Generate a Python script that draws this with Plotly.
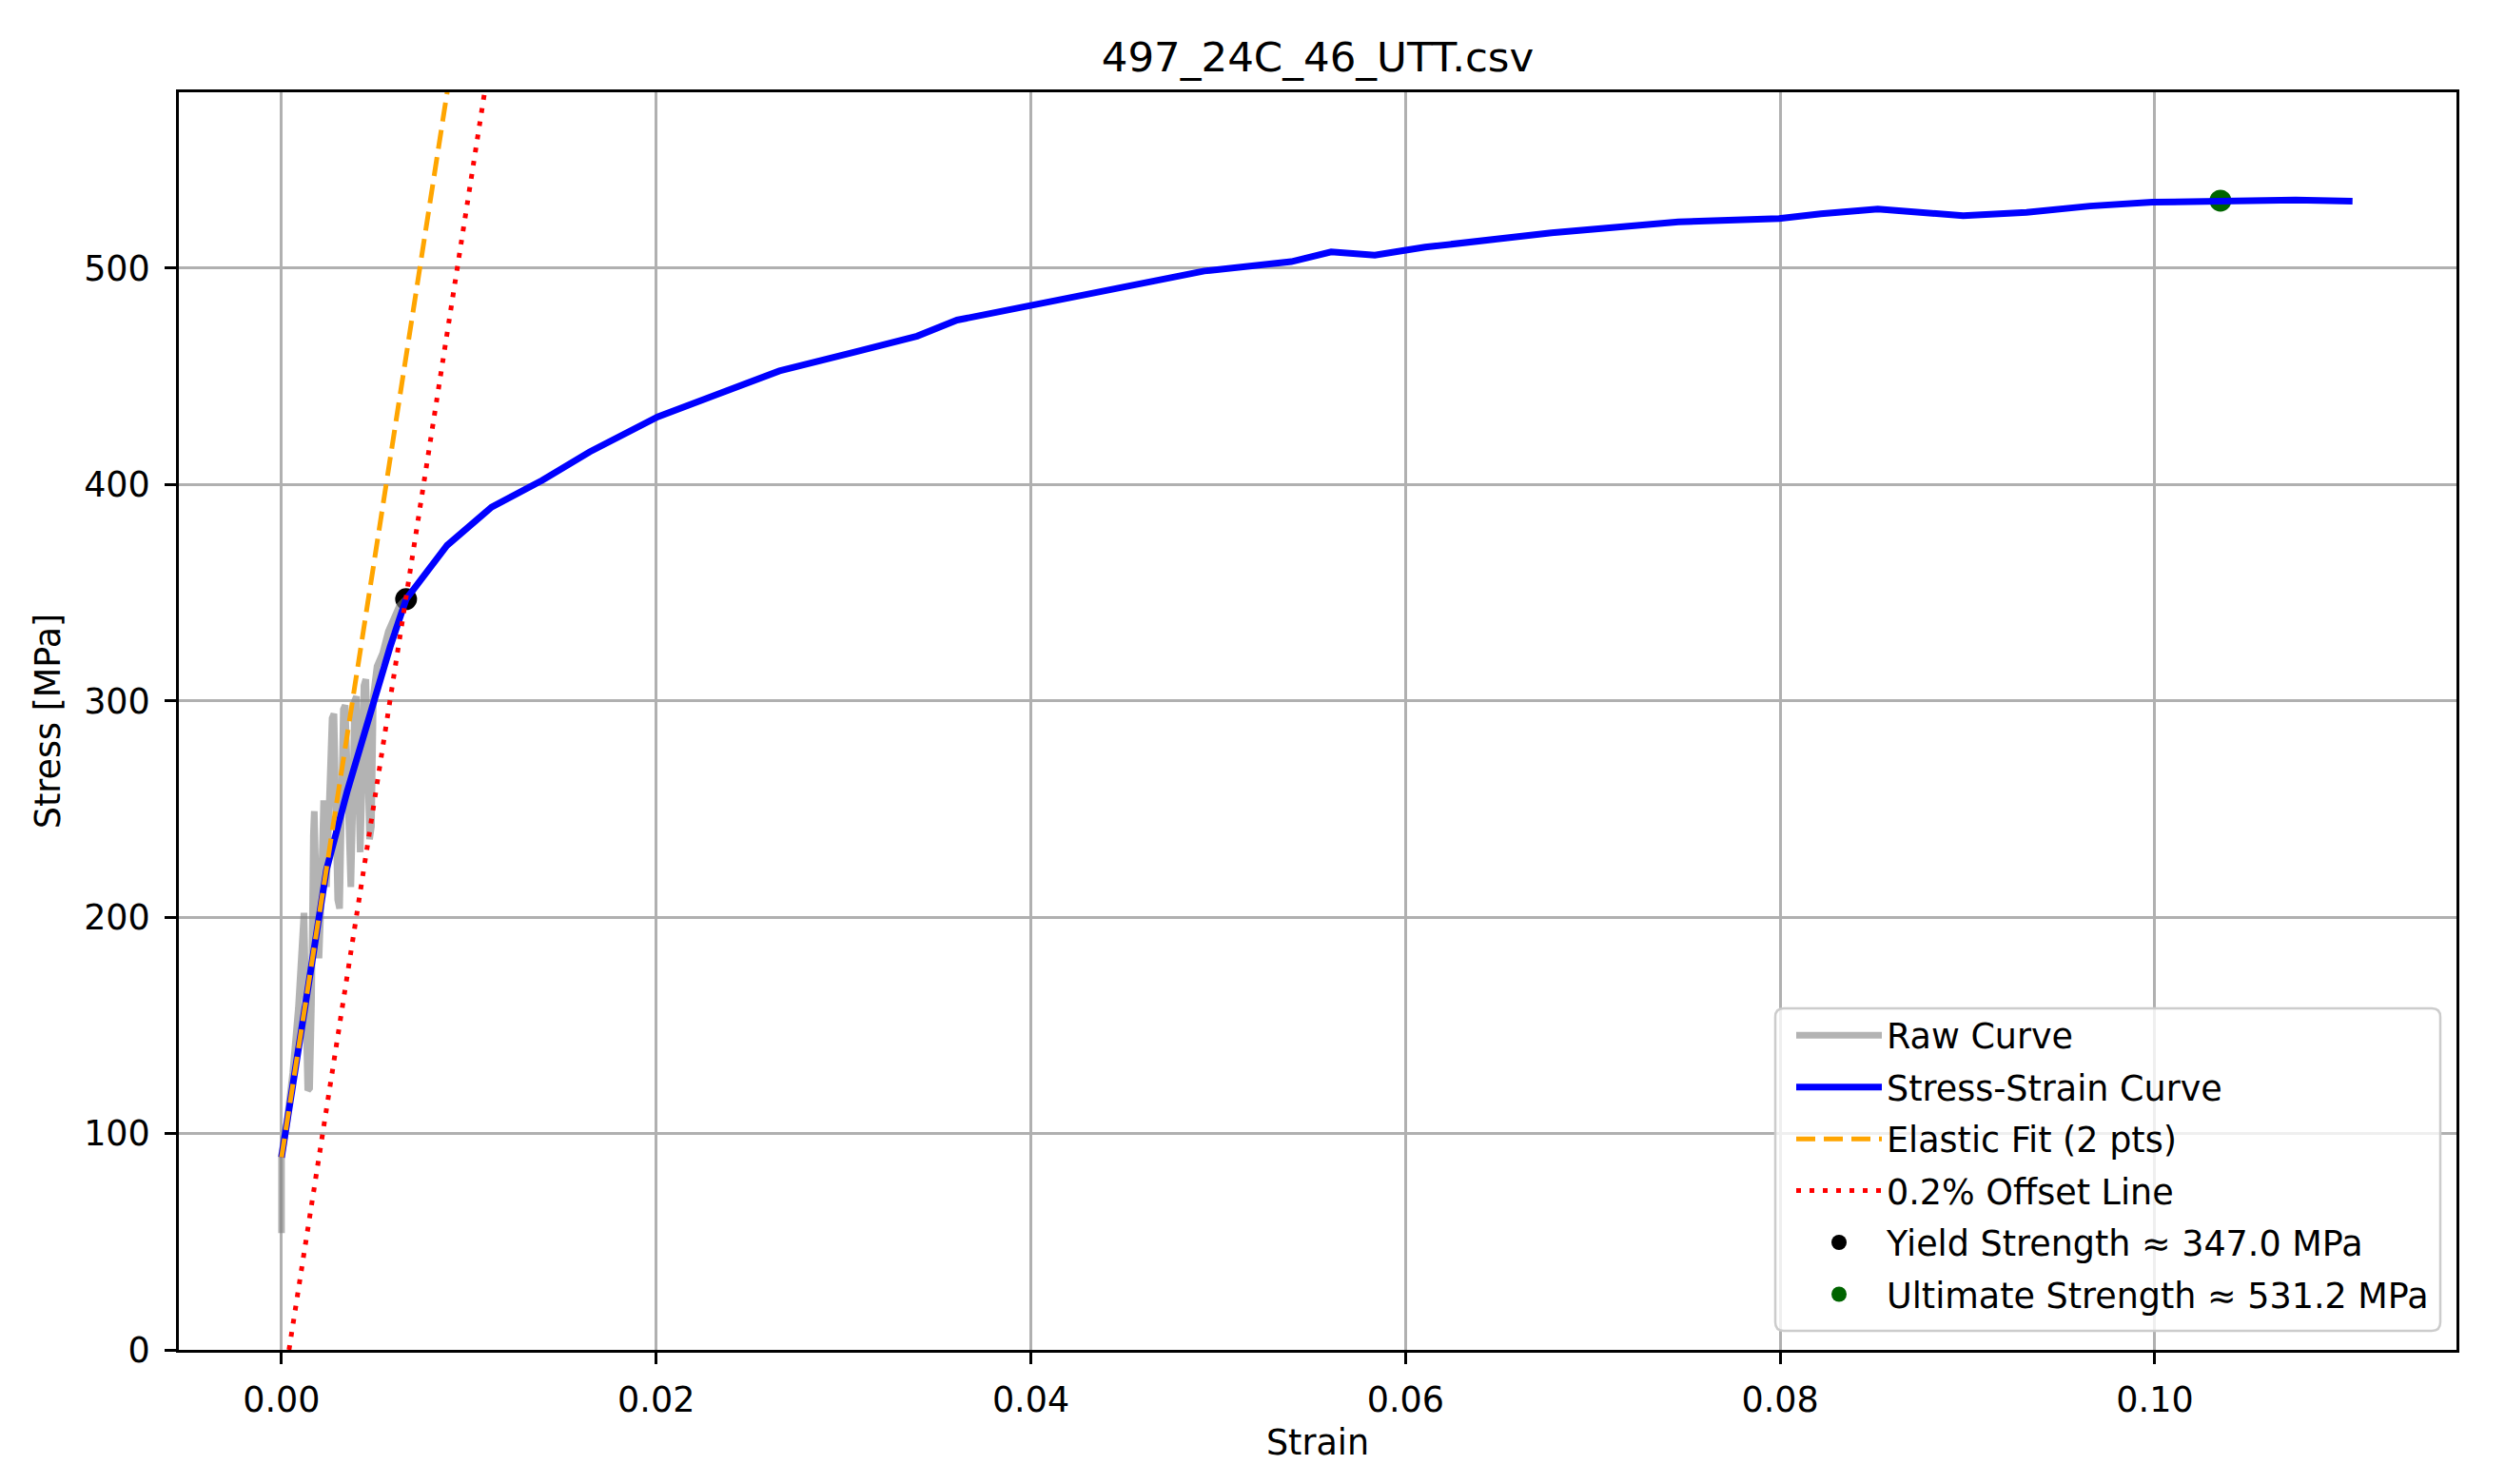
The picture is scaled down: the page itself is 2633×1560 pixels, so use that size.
import plotly.graph_objects as go

# ---------------- data ----------------
raw_strain = [0.0000, 0.0000, 0.0003, 0.0006, 0.0009, 0.0011, 0.0012, 0.00125, 0.0013, 0.0014,
              0.0015, 0.0016, 0.0017, 0.00175, 0.0018, 0.0019, 0.0020, 0.0021, 0.0022, 0.00225,
              0.0023, 0.0024, 0.0025, 0.0026, 0.0027, 0.0028, 0.0029, 0.0030, 0.0031, 0.0032,
              0.0033, 0.0034, 0.0035, 0.0036, 0.0037, 0.0038, 0.0039, 0.0040, 0.0041, 0.0042,
              0.0043, 0.0044, 0.0045, 0.0046, 0.0047, 0.0048, 0.0049, 0.0051, 0.0054, 0.0057,
              0.0060, 0.0063, 0.00665]
raw_stress = [54, 90, 106, 128, 158, 185, 202, 180, 140, 120,
              121, 160, 238, 249, 230, 200, 181, 205, 250, 254,
              232, 214, 240, 270, 292, 294, 250, 208, 204, 240,
              296, 298, 262, 226, 214, 250, 300, 302, 272, 230,
              262, 307, 310, 272, 236, 242, 302, 316, 322, 332,
              338, 344, 347]

curve_strain = [0.0000, 0.0010, 0.0020, 0.0024, 0.0035, 0.0048, 0.0058, 0.00665,
                0.00884, 0.01121, 0.01391, 0.01645, 0.02008, 0.02320, 0.02658, 0.03064,
                0.03393, 0.03606, 0.04000, 0.04306, 0.04498, 0.04926, 0.05390, 0.05603,
                0.05836, 0.05993, 0.06105, 0.06779, 0.07456, 0.07994, 0.08217, 0.08521,
                0.08740, 0.08977, 0.09315, 0.09653, 0.09986, 0.10346, 0.10751, 0.11055]
curve_stress = [89.0, 144.5, 200.0, 222.0, 258.0, 296.0, 325.0, 347.0,
                371.9, 389.5, 401.9, 415.1, 431.3, 441.5, 452.5, 461.3,
                468.6, 476.0, 482.5, 487.7, 491.3, 498.7, 503.0, 507.5,
                506.0, 508.2, 509.7, 516.3, 521.4, 522.9, 525.1, 527.3,
                526.1, 524.3, 525.8, 528.7, 530.5, 531.2, 531.5, 531.0]

elastic_strain = [0.0, 0.0095]
elastic_stress = [89.0, 618.0]

offset_strain = [0.0004, 0.0115]
offset_stress = [0.0, 618.0]

yield_strain = [0.00665]
yield_stress = [347.0]
ultimate_strain = [0.1035]
ultimate_stress = [531.2]

x_ticks = [0.00, 0.02, 0.04, 0.06, 0.08, 0.10]
x_tick_labels = ["0.00", "0.02", "0.04", "0.06", "0.08", "0.10"]
y_ticks = [0, 100, 200, 300, 400, 500]
y_tick_labels = ["0", "100", "200", "300", "400", "500"]

title_text = "497_24C_46_UTT.csv"

# ---------------- figure ----------------
FONT = "DejaVu Sans"
# the page body adds an 8px offset, so the figure is 8px smaller
W, H = 2625, 1552
L, R, T, B = 180, 51, 89, 141
FS = 36.5

fig = go.Figure()

# markers first so the lines are drawn over them (as in the reference)
fig.add_trace(go.Scatter(x=yield_strain, y=yield_stress, mode="markers",
                         marker=dict(color="black", size=23),
                         name="Yield Strength ≈ 347.0 MPa", legendgroup="g5", legendrank=5))
fig.add_trace(go.Scatter(x=ultimate_strain, y=ultimate_stress, mode="markers",
                         marker=dict(color="#006400", size=23),
                         name="Ultimate Strength ≈ 531.2 MPa", legendgroup="g6", legendrank=6))
fig.add_trace(go.Scatter(x=raw_strain, y=raw_stress, mode="lines",
                         line=dict(color="rgba(128,128,128,0.6)", width=7),
                         name="Raw Curve", legendgroup="g1", legendrank=1))
fig.add_trace(go.Scatter(x=curve_strain, y=curve_stress, mode="lines",
                         line=dict(color="blue", width=7),
                         name="Stress-Strain Curve", legendgroup="g2", legendrank=2))
fig.add_trace(go.Scatter(x=elastic_strain, y=elastic_stress, mode="lines",
                         line=dict(color="orange", width=5, dash="20px,9px"),
                         name="Elastic Fit (2 pts)", legendgroup="g3", legendrank=3))
fig.add_trace(go.Scatter(x=offset_strain, y=offset_stress, mode="lines",
                         line=dict(color="red", width=5, dash="5px,9px"),
                         name="0.2% Offset Line", legendgroup="g4", legendrank=4))

plot_w = W - L - R
plot_h = H - T - B


def px_to_paper(px, py):
    return (px - L) / plot_w, (H - B - py) / plot_h


# legend frame (rounded, semi-transparent) in figure pixel coords
bx0, by0, bx1, by1, rad = 1858, 1052, 2557, 1391, 9
x0p, y0p = px_to_paper(bx0, by0)
x1p, y1p = px_to_paper(bx1, by1)
rx = rad / plot_w
ry = rad / plot_h
path = (f"M {x0p + rx},{y0p} L {x1p - rx},{y0p} Q {x1p},{y0p} {x1p},{y0p - ry} "
        f"L {x1p},{y1p + ry} Q {x1p},{y1p} {x1p - rx},{y1p} "
        f"L {x0p + rx},{y1p} Q {x0p},{y1p} {x0p},{y1p + ry} "
        f"L {x0p},{y0p - ry} Q {x0p},{y0p} {x0p + rx},{y0p} Z")

fig.update_layout(
    width=W, height=H,
    margin=dict(l=L, r=R, t=T, b=B, autoexpand=False),
    paper_bgcolor="white", plot_bgcolor="white",
    font=dict(family=FONT, size=FS, color="black"),
    title=dict(text=title_text, x=0.5, xref="paper", xanchor="center",
               y=1 - 52 / H, yref="container", yanchor="middle",
               font=dict(family=FONT, size=43.5, color="black")),
    legend=dict(x=(2550 - L) / plot_w, y=(H - B - 1383) / plot_h,
                xanchor="right", yanchor="bottom",
                bgcolor="rgba(0,0,0,0)", borderwidth=0,
                font=dict(family=FONT, size=FS, color="black"),
                traceorder="grouped", tracegroupgap=4, itemwidth=90),
    showlegend=True,
    shapes=[dict(type="path", path=path, xref="paper", yref="paper",
                 fillcolor="rgba(255,255,255,0.8)",
                 line=dict(color="#cccccc", width=2.5), layer="above")],
)

axis_common = dict(showgrid=True, gridcolor="#b0b0b0", gridwidth=2.5,
                   showline=True, linecolor="black", linewidth=2.8, mirror=True,
                   ticks="outside", ticklen=12, tickwidth=2.8, tickcolor="black",
                   zeroline=False, tickfont=dict(family=FONT, size=FS, color="black"),
                   automargin=False)

fig.update_xaxes(range=[-0.00548, 0.1161], tickvals=x_ticks, ticktext=x_tick_labels,
                 title=dict(text="Strain", font=dict(family=FONT, size=FS), standoff=12),
                 ticklabelstandoff=6, **axis_common)
fig.update_yaxes(range=[0, 581.3], tickvals=y_ticks, ticktext=y_tick_labels,
                 title=dict(text="Stress [MPa]", font=dict(family=FONT, size=FS), standoff=14),
                 ticklabelstandoff=8, **axis_common)

fig.write_html("out.html")
